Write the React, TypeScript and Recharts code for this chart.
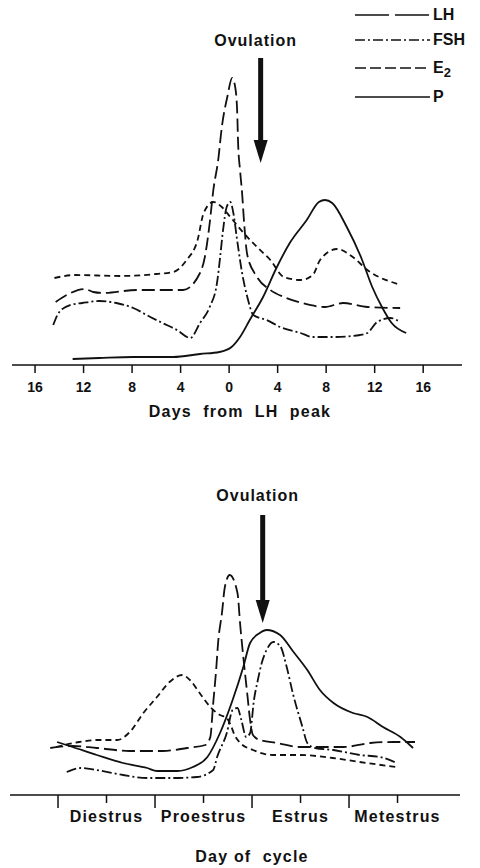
import React from 'react';
import { LineChart, Line, XAxis, YAxis, ReferenceLine, Legend, Label } from 'recharts';

const FONT = '"Liberation Sans", Arial, sans-serif';
const INK = '#111';

// Human: [days from LH peak, relative level]
const HUMAN_LH: [number, number][] = [
  [-14.3, 63], [-13.4, 70], [-11.9, 76], [-11.2, 73], [-10.4, 72], [-7.6, 75], [-3.8, 75],
  [-2.4, 92], [-2.0, 108], [-1.6, 142], [-1.3, 175], [-0.9, 205], [-0.6, 238], [-0.15, 268],
  [0.25, 287], [0.5, 278], [0.66, 255], [0.74, 222], [0.9, 195], [1.07, 172], [1.25, 140],
  [1.5, 110], [2.3, 88], [3.4, 75], [4.5, 68], [6.0, 62], [7.9, 58], [9.4, 62], [11.4, 58], [14.1, 57],
];
const HUMAN_FSH: [number, number][] = [
  [-14.5, 40], [-14.0, 53], [-13.1, 60], [-12.1, 62], [-10.7, 64], [-9.3, 62], [-7.9, 57],
  [-6.5, 48], [-5.5, 42], [-4.3, 35], [-3.2, 27], [-2.4, 42], [-1.6, 58], [-1.0, 82],
  [-0.74, 108], [-0.5, 135], [-0.2, 158], [0.1, 163], [0.35, 152], [0.66, 125], [1.07, 92],
  [1.5, 68], [2.0, 50], [3.1, 45], [4.2, 38], [5.9, 32], [6.9, 28], [8.6, 28], [10.8, 30],
  [11.4, 32], [12.2, 43], [13.3, 47], [14.1, 43],
];
const HUMAN_E2: [number, number][] = [
  [-14.4, 87], [-12.7, 90], [-9.0, 89], [-6.0, 91], [-4.6, 93], [-3.5, 105], [-2.6, 125],
  [-2.1, 152], [-1.3, 163], [-0.6, 158], [0.1, 148], [1.2, 132], [2.3, 118], [3.4, 105],
  [4.5, 88], [5.9, 85], [6.9, 90], [7.5, 105], [8.9, 116], [10.2, 108], [11.4, 95], [13.9, 81],
];
const HUMAN_P: [number, number][] = [
  [-12.9, 6], [-10.7, 7], [-7.9, 8], [-4.6, 8], [-2.4, 11], [-0.8, 13], [0.2, 18], [0.9, 28],
  [1.7, 45], [2.8, 68], [3.9, 97], [5.0, 122], [6.4, 145], [7.4, 163], [7.9, 165], [8.5, 162],
  [9.7, 138], [10.9, 107], [11.8, 78], [12.6, 58], [13.4, 42], [14.6, 32],
];
const HUMAN_TICKS = [-16, -12, -8, -4, 0, 4, 8, 12, 16];
const HUMAN_OVULATION = 2.6;

// Rat: [day of cycle (0 = start of diestrus), relative level]
const RAT_LH: [number, number][] = [
  [-0.08, 47], [0.15, 49], [0.4, 47], [0.74, 44], [1.08, 44], [1.33, 47], [1.52, 50], [1.57, 58],
  [1.6, 92], [1.63, 125], [1.65, 152], [1.69, 182], [1.72, 208], [1.77, 220], [1.85, 202],
  [1.88, 168], [1.91, 138], [1.95, 102], [1.98, 75], [2.01, 60], [2.08, 55], [2.26, 52],
  [2.49, 48], [2.7, 48], [2.94, 48], [3.22, 52], [3.45, 53], [3.68, 53],
];
const RAT_FSH: [number, number][] = [
  [0.09, 23], [0.23, 27], [0.4, 25], [0.67, 20], [0.92, 17], [1.19, 17], [1.43, 18], [1.6, 25],
  [1.64, 38], [1.74, 62], [1.8, 85], [1.85, 87], [1.89, 75], [1.94, 58], [1.98, 62], [2.02, 95],
  [2.06, 115], [2.1, 132], [2.15, 145], [2.22, 153], [2.29, 149], [2.36, 127], [2.42, 102],
  [2.52, 68], [2.57, 52], [2.65, 47], [2.84, 45], [3.11, 40], [3.32, 38], [3.49, 32],
];
const RAT_E2: [number, number][] = [
  [-0.02, 48], [0.22, 53], [0.4, 55], [0.61, 55], [0.74, 63], [0.88, 82], [1.02, 98], [1.15, 113],
  [1.28, 120], [1.36, 115], [1.46, 102], [1.57, 88], [1.67, 80], [1.74, 77], [1.78, 70],
  [1.82, 60], [1.88, 52], [2.01, 45], [2.22, 40], [2.49, 40], [2.83, 37], [3.18, 32], [3.49, 28],
];
const RAT_P: [number, number][] = [
  [-0.01, 53], [0.15, 48], [0.4, 40], [0.67, 32], [0.92, 27], [1.02, 24], [1.23, 24], [1.39, 28],
  [1.54, 38], [1.67, 62], [1.8, 95], [1.91, 128], [1.98, 152], [2.08, 162], [2.15, 165],
  [2.29, 160], [2.42, 144], [2.57, 125], [2.7, 105], [2.84, 92], [3.04, 82], [3.19, 78],
  [3.35, 68], [3.53, 58], [3.66, 47],
];
const RAT_TICKS = [0, 0.5, 1, 1.5, 2, 2.5, 3, 3.5];
const RAT_STAGES = ['Diestrus', 'Proestrus', 'Estrus', 'Metestrus'];
const RAT_OVULATION = 2.11;

const DASH = { LH: '13 5', FSH: '10 3 2 3', E2: '6 4', P: undefined as string | undefined };

const toPoints = (pairs: [number, number][]) => pairs.map(([d, v]) => ({ d, v }));

const textStyle = { fontFamily: FONT, fontWeight: 'bold' as const, fill: INK };

const HumanTick = ({ x, y, payload }: any) => (
  <g>
    <line x1={x} y1={y} x2={x} y2={y + 8} stroke={INK} strokeWidth={1.5} />
    <text x={x} y={y + 27} textAnchor="middle" fontSize={14} {...textStyle}>
      {Math.abs(payload.value)}
    </text>
  </g>
);

const RatTick = ({ x, y, payload }: any) => {
  const boundary = Number.isInteger(payload.value);
  return (
    <g>
      <line x1={x} y1={y} x2={x} y2={y + (boundary ? 13 : 8)} stroke={INK} strokeWidth={1.5} />
      {!boundary && (
        <text x={x} y={y + 27} textAnchor="middle" fontSize={16} letterSpacing={1.2} {...textStyle}>
          {RAT_STAGES[Math.floor(payload.value)]}
        </text>
      )}
    </g>
  );
};

const OvulationArrow = ({ x1, y1, y2, gap }: any) => {
  const top = Math.min(y1, y2);
  const tip = Math.max(y1, y2);
  return (
    <g>
      <text x={x1 - 5} y={top - gap} textAnchor="middle" fontSize={16} letterSpacing={1} {...textStyle}>
        Ovulation
      </text>
      <line x1={x1} y1={top} x2={x1} y2={tip - 20} stroke={INK} strokeWidth={5} />
      <polygon points={`${x1 - 7},${tip - 23} ${x1 + 7},${tip - 23} ${x1},${tip}`} fill={INK} />
    </g>
  );
};

const LEGEND_ROWS = [
  { key: 'LH', dash: '34 6', label: 'LH' },
  { key: 'FSH', dash: '10 3 2 3', label: 'FSH' },
  { key: 'E2', dash: '11 4', label: 'E' },
  { key: 'P', dash: undefined, label: 'P' },
];
const LEGEND_Y = [15, 40, 68, 97];

const HumanLegend = () => (
  <svg width={128} height={110}>
    {LEGEND_ROWS.map((row, i) => (
      <g key={row.key}>
        <line x1={3} y1={LEGEND_Y[i]} x2={78} y2={LEGEND_Y[i]} stroke={INK} strokeWidth={1.6} strokeDasharray={row.dash} />
        <text x={81} y={LEGEND_Y[i] + 5} fontSize={16} {...textStyle}>
          {row.label}
          {row.key === 'E2' && <tspan dy={4} fontSize={13}>2</tspan>}
        </text>
      </g>
    ))}
  </svg>
);

const PanelName = (text: string, dx: number, dy: number) => ({ viewBox }: any) => (
  <text x={viewBox.x + dx} y={viewBox.y + dy} fontSize={17} letterSpacing={2.5} {...textStyle}>
    {text}
  </text>
);

const AxisTitle = (text: string, dx: number, dy: number) => ({ viewBox }: any) => (
  <text x={viewBox.x + viewBox.width / 2 + dx} y={viewBox.y + dy} textAnchor="middle" fontSize={16} letterSpacing={1.2} style={{ whiteSpace: 'pre' }} {...textStyle}>
    {text}
  </text>
);

const lineProps = {
  dataKey: 'v',
  type: 'monotone' as const,
  stroke: INK,
  strokeWidth: 1.8,
  dot: false,
  activeDot: false,
  isAnimationActive: false,
};

export default function App() {
  return (
    <div style={{ position: 'absolute', left: 0, top: 0, width: 480, height: 868, background: '#fff' }}>
      {/* Human panel */}
      <div style={{ position: 'absolute', left: 0, top: 0 }}>
        <LineChart width={480} height={432} margin={{ top: 47, right: 18, bottom: 0, left: 12 }}>
          <XAxis
            type="number"
            dataKey="d"
            domain={[-17.9, 19.2]}
            allowDataOverflow
            ticks={HUMAN_TICKS}
            interval={0}
            tick={<HumanTick />}
            tickLine={false}
            tickSize={0}
            tickMargin={0}
            height={67}
            axisLine={{ stroke: INK, strokeWidth: 1.5 }}
          >
            <Label content={AxisTitle('Days  from  LH  peak', 3, 52)} />
          </XAxis>
          <YAxis
            type="number"
            domain={[0, 318]}
            allowDataOverflow
            width={0}
            tick={false}
            tickLine={false}
            axisLine={{ stroke: INK, strokeWidth: 1.5 }}
          >
            <Label content={PanelName('HUMAN', 24, 28)} />
          </YAxis>
          <Line {...lineProps} data={toPoints(HUMAN_E2)} strokeDasharray={DASH.E2} name="E2" />
          <Line {...lineProps} data={toPoints(HUMAN_FSH)} strokeDasharray={DASH.FSH} name="FSH" />
          <Line {...lineProps} data={toPoints(HUMAN_LH)} strokeDasharray={DASH.LH} name="LH" />
          <Line {...lineProps} data={toPoints(HUMAN_P)} name="P" />
          <ReferenceLine
            segment={[{ x: HUMAN_OVULATION, y: 307 }, { x: HUMAN_OVULATION, y: 202 }]}
            ifOverflow="visible"
            shape={(p: any) => <OvulationArrow {...p} gap={12} />}
          />
          <Legend
            layout="vertical"
            align="center"
            verticalAlign="middle"
            wrapperStyle={{ left: 352, top: 0, width: 128 }}
            content={<HumanLegend />}
          />
        </LineChart>
      </div>

      {/* Rat panel */}
      <div style={{ position: 'absolute', left: 0, top: 440 }}>
        <LineChart width={480} height={428} margin={{ top: 88, right: 20, bottom: 3, left: 10 }}>
          <XAxis
            type="number"
            dataKey="d"
            domain={[-0.495, 4.144]}
            allowDataOverflow
            ticks={RAT_TICKS}
            interval={0}
            tick={<RatTick />}
            tickLine={false}
            tickSize={0}
            tickMargin={0}
            height={70}
            axisLine={{ stroke: INK, strokeWidth: 1.5 }}
          >
            <Label content={AxisTitle('Day of  cycle', 17, 67)} />
          </XAxis>
          <YAxis
            type="number"
            domain={[0, 267]}
            allowDataOverflow
            width={0}
            tick={false}
            tickLine={false}
            axisLine={{ stroke: INK, strokeWidth: 1.5 }}
          >
            <Label content={PanelName('RAT', 28, 27)} />
          </YAxis>
          <Line {...lineProps} data={toPoints(RAT_E2)} strokeDasharray={DASH.E2} name="E2" />
          <Line {...lineProps} data={toPoints(RAT_FSH)} strokeDasharray={DASH.FSH} name="FSH" />
          <Line {...lineProps} data={toPoints(RAT_LH)} strokeDasharray={DASH.LH} name="LH" />
          <Line {...lineProps} data={toPoints(RAT_P)} name="P" />
          <ReferenceLine
            segment={[{ x: RAT_OVULATION, y: 280 }, { x: RAT_OVULATION, y: 172 }]}
            ifOverflow="visible"
            shape={(p: any) => <OvulationArrow {...p} gap={14} />}
          />
        </LineChart>
      </div>
    </div>
  );
}
